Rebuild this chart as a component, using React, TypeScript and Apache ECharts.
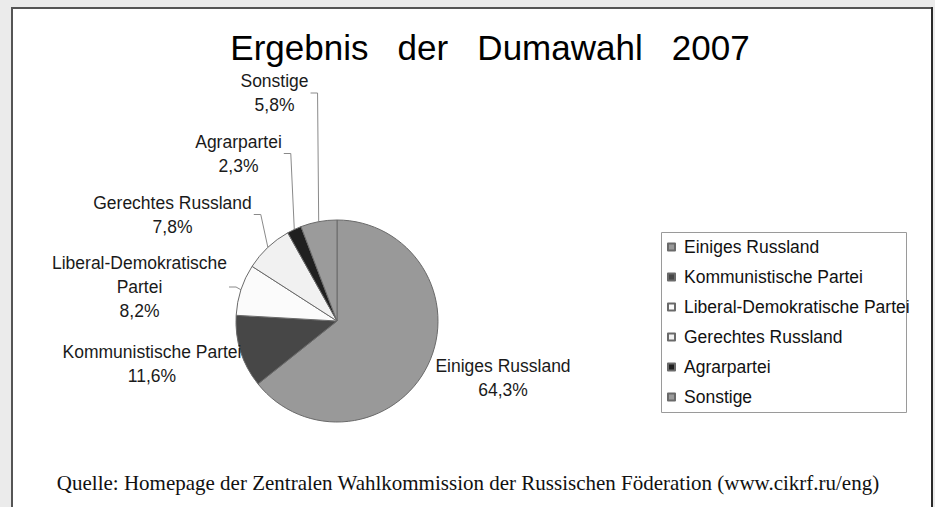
import React, { useEffect, useRef } from "react";
import * as echarts from "echarts";

// ---- data ----
const parties = [
  "Einiges Russland",
  "Kommunistische Partei",
  "Liberal-Demokratische Partei",
  "Gerechtes Russland",
  "Agrarpartei",
  "Sonstige",
];
const labelNames = [
  "Einiges Russland",
  "Kommunistische Partei",
  "Liberal-Demokratische\nPartei",
  "Gerechtes Russland",
  "Agrarpartei",
  "Sonstige",
];
const shares = [64.3, 11.6, 8.2, 7.8, 2.3, 5.8];
const chartTitle = "Ergebnis\u00A0\u00A0\u00A0der\u00A0\u00A0\u00A0Dumawahl\u00A0\u00A0\u00A02007";
const sourceNote =
  "Quelle: Homepage der Zentralen Wahlkommission der Russischen Föderation (www.cikrf.ru/eng)";

// ---- styles / layout ----
const sliceColors = ["#999999", "#474747", "#fbfbfb", "#f1f1f1", "#202020", "#9b9b9b"];
const CENTER = [337, 321];
const RADIUS = 101;
const LABEL_POS = [
  [503, 377.5],
  [152, 363.5],
  [139.5, 287],
  [172.5, 214.5],
  [238.5, 153.5],
  [274.5, 93],
];
const LABEL_LINE = [false, false, true, true, true, true];
const SANS = "'Liberation Sans', Arial, sans-serif";
const SERIF = "'Liberation Serif', 'Times New Roman', serif";

export default function App() {
  const ref = useRef<HTMLDivElement>(null);

  useEffect(() => {
    if (!ref.current) return;
    const chart = echarts.init(ref.current, undefined, { renderer: "svg" });
    const total = shares.reduce((a, b) => a + b, 0);
    const cum: number[] = [];
    shares.reduce((acc, v, i) => {
      cum[i] = acc;
      return acc + v;
    }, 0);

    chart.setOption({
      animation: false,
      backgroundColor: "#ebebeb",
      graphic: [
        {
          type: "rect",
          z: 0,
          shape: { x: 12, y: 8, width: 920, height: 540 },
          style: { fill: "#ffffff", stroke: "#555555", lineWidth: 2 },
        },
        {
          type: "line",
          z: 1,
          shape: { x1: 932, y1: 7, x2: 932, y2: 507 },
          style: { stroke: "#2a2a2a", lineWidth: 2 },
        },
        {
          type: "rect",
          z: 1,
          shape: { x: 661.5, y: 232.5, width: 245, height: 180 },
          style: { fill: "none", stroke: "#9a9a9a", lineWidth: 1 },
        },
        {
          type: "text",
          z: 5,
          x: 490,
          y: 47,
          style: {
            text: chartTitle,
            fontSize: 35,
            fontFamily: SANS,
            fill: "#000000",
            align: "center",
            verticalAlign: "middle",
          },
        },
        {
          type: "text",
          z: 5,
          x: 468,
          y: 483,
          style: {
            text: sourceNote,
            fontSize: 21,
            fontFamily: SERIF,
            fill: "#111111",
            align: "center",
            verticalAlign: "middle",
          },
        },
      ],
      legend: {
        orient: "vertical",
        left: 661,
        top: 232,
        data: parties,
        icon: "rect",
        itemWidth: 7,
        itemHeight: 7,
        itemGap: 10,
        padding: [5, 0, 6, 6],
        borderWidth: 0,
        textStyle: {
          fontSize: 17.5,
          fontFamily: SANS,
          color: "#111111",
          lineHeight: 20,
          padding: [0, 0, 0, 4],
        },
      },
      series: [
        {
          type: "pie",
          center: CENTER,
          radius: RADIUS,
          startAngle: 90,
          clockwise: true,
          avoidLabelOverlap: false,
          itemStyle: { borderColor: "#6a6a6a", borderWidth: 1 },
          label: {
            show: true,
            position: "outside",
            fontSize: 17.5,
            fontFamily: SANS,
            color: "#1a1a1a",
            lineHeight: 24,
            align: "center",
            formatter: (p: any) =>
              `${labelNames[p.dataIndex]}\n${shares[p.dataIndex].toFixed(1).replace(".", ",")}%`,
          },
          labelLine: {
            show: true,
            lineStyle: { color: "#8a8a8a", width: 1 },
          },
          labelLayout: (params: any) => {
            const i = params.dataIndex;
            const [x, y] = LABEL_POS[i];
            const out: any = { x, y, align: "center", verticalAlign: "middle" };
            if (LABEL_LINE[i]) {
              const theta = ((cum[i] + shares[i] / 2) / total) * Math.PI * 2;
              const ax = CENTER[0] + RADIUS * Math.sin(theta);
              const ay = CENTER[1] - RADIUS * Math.cos(theta);
              const right = x + params.labelRect.width / 2 + 2;
              out.labelLinePoints = [
                [ax, ay],
                [right + 7, y],
                [right, y],
              ];
            }
            return out;
          },
          data: parties.map((name, i) => ({
            name,
            value: shares[i],
            itemStyle: { color: sliceColors[i] },
            labelLine: { show: LABEL_LINE[i] },
          })),
        },
      ],
    });

    return () => chart.dispose();
  }, []);

  return (
    <div
      ref={ref}
      style={{ position: "fixed", left: 0, top: 0, width: 935, height: 507 }}
    />
  );
}
